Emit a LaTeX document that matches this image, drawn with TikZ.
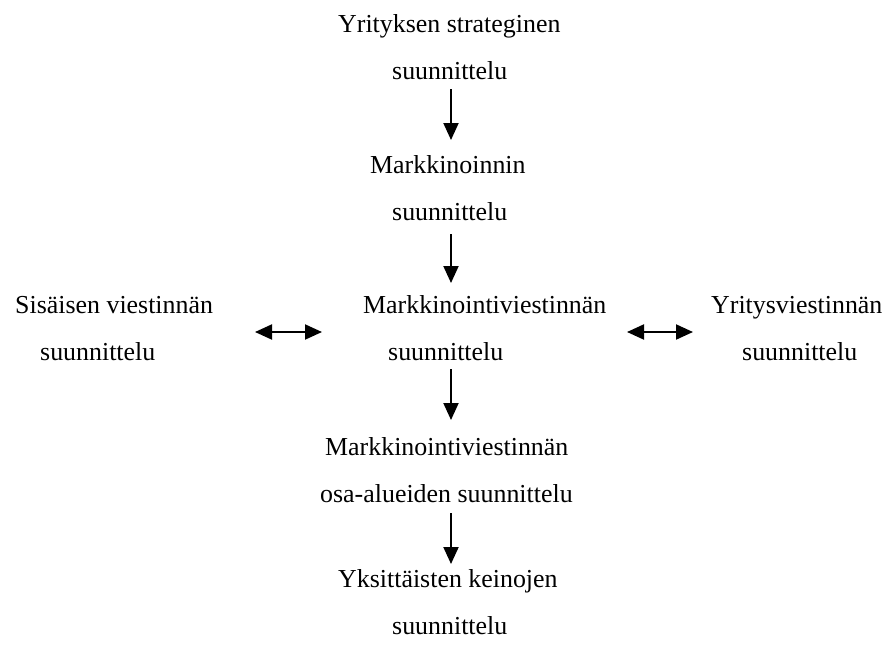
\documentclass[tikz,border=0pt]{standalone}
\usepackage{fontspec}
\setmainfont{Liberation Serif}
\usetikzlibrary{arrows.meta}
\begin{document}
\begin{tikzpicture}[x=1pt,y=-1pt,
  txt/.style={anchor=base west, inner sep=0pt, font=\fontsize{25.9}{30}\selectfont},
  flow/.style={line width=2pt, -{Triangle[width=15pt,length=17pt]}},
  twoway/.style={line width=2pt, {Triangle[width=15pt,length=17pt]}-{Triangle[width=15pt,length=17pt]}}]
  \useasboundingbox (0,0) rectangle (889,646);

  % central column
  \node[txt] (s1a) at (338,32) {Yrityksen strateginen};
  \node[txt] (s1b) at (392,79) {suunnittelu};
  \node[txt] (s2a) at (370,173) {Markkinoinnin};
  \node[txt] (s2b) at (392,220) {suunnittelu};
  \node[txt] (s3a) at (363,313) {Markkinointiviestinnän};
  \node[txt] (s3b) at (388,360) {suunnittelu};
  \node[txt] (s4a) at (325,455) {Markkinointiviestinnän};
  \node[txt] (s4b) at (320,502) {osa-alueiden suunnittelu};
  \node[txt] (s5a) at (338,587) {Yksittäisten keinojen};
  \node[txt] (s5b) at (392,634) {suunnittelu};

  % side blocks
  \node[txt] (la) at (15,313) {Sisäisen viestinnän};
  \node[txt] (lb) at (40,360) {suunnittelu};
  \node[txt] (ra) at (711,313) {Yritysviestinnän};
  \node[txt] (rb) at (742,360) {suunnittelu};

  % arrow end points
  \coordinate (a1s) at (451,89);  \coordinate (a1e) at (451,140);
  \coordinate (a2s) at (451,234); \coordinate (a2e) at (451,283);
  \coordinate (a3s) at (451,369); \coordinate (a3e) at (451,420);
  \coordinate (a4s) at (451,513); \coordinate (a4e) at (451,564);
  \coordinate (bl1) at (255,332); \coordinate (bl2) at (322,332);
  \coordinate (br1) at (627,332); \coordinate (br2) at (693,332);

  \draw[flow] (a1s) -- (a1e);
  \draw[flow] (a2s) -- (a2e);
  \draw[flow] (a3s) -- (a3e);
  \draw[flow] (a4s) -- (a4e);
  \draw[twoway] (bl1) -- (bl2);
  \draw[twoway] (br1) -- (br2);
\end{tikzpicture}
\end{document}
